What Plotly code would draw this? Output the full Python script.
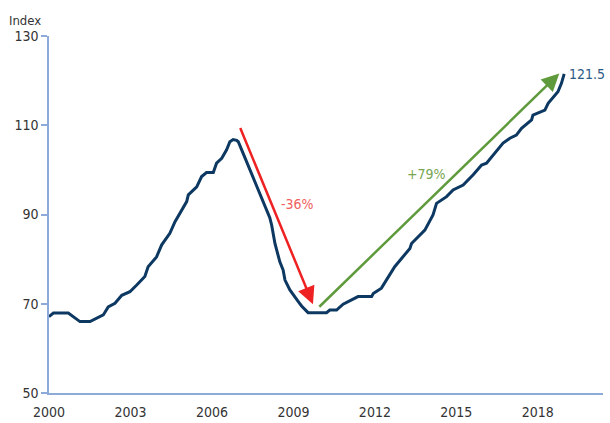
import plotly.graph_objects as go

years = [2000.00, 2000.16, 2000.71, 2000.89, 2001.14, 2001.51, 2001.76, 2002.00, 2002.18, 2002.43,
         2002.68, 2002.98, 2003.23, 2003.53, 2003.65, 2003.96, 2004.15, 2004.45, 2004.64, 2004.82,
         2005.07, 2005.13, 2005.44, 2005.62, 2005.80, 2006.05, 2006.17, 2006.36, 2006.54, 2006.66,
         2006.78, 2006.91, 2006.97, 2007.21, 2007.58, 2007.64, 2008.13, 2008.20, 2008.32, 2008.50,
         2008.62, 2008.69, 2008.87, 2009.18, 2009.30, 2009.54, 2010.22, 2010.34, 2010.59, 2010.83,
         2011.08, 2011.38, 2011.88, 2011.94, 2012.24, 2012.43, 2012.67, 2012.73, 2013.29, 2013.35,
         2013.84, 2014.14, 2014.27, 2014.64, 2014.88, 2015.25, 2015.62, 2015.93, 2016.11, 2016.72,
         2016.97, 2017.21, 2017.40, 2017.77, 2017.82, 2018.26, 2018.38, 2018.74, 2018.87, 2018.93,
         2018.97]
index_values = [67.1, 67.9, 67.9, 67.1, 66.0, 66.0, 66.7, 67.5, 69.3, 70.1,
                71.9, 72.7, 74.2, 76.1, 78.3, 80.5, 83.2, 85.8, 88.4, 90.3,
                92.9, 94.4, 96.2, 98.5, 99.4, 99.4, 101.5, 102.6, 104.5, 106.3,
                106.8, 106.6, 106.3, 102.8, 97.5, 96.6, 89.3, 87.6, 83.5, 79.4,
                77.6, 75.3, 73.1, 70.5, 69.5, 68.0, 68.0, 68.6, 68.6, 69.9,
                70.6, 71.6, 71.6, 72.3, 73.5, 75.3, 77.6, 78.3, 82.4, 83.5,
                86.5, 89.9, 92.5, 94.0, 95.5, 96.6, 98.9, 101.1, 101.5, 106.0,
                107.1, 107.8, 109.3, 111.2, 112.3, 113.4, 114.9, 117.5, 119.4, 120.9,
                121.5]
x_ticks = [2000, 2003, 2006, 2009, 2012, 2015, 2018]
y_ticks = [50, 70, 90, 110, 130]
end_label = "121.5"
fall_label = "-36%"
rise_label = "+79%"

FONT = "DejaVu Sans Condensed, Liberation Sans Narrow, Arial Narrow, sans-serif"
AXIS = "#8eaadb"

fig = go.Figure()
fig.add_trace(go.Scatter(x=years, y=index_values, mode="lines",
                         line=dict(color="#0c3862", width=3), hoverinfo="skip"))

fig.add_annotation(x=2009.72, y=69.9, ax=2007.02, ay=109.7, xref="x", yref="y",
                   axref="x", ayref="y", showarrow=True, arrowhead=2, arrowsize=1.4,
                   arrowwidth=2.5, arrowcolor="#ee2222", text="")
fig.add_annotation(x=2018.79, y=121.6, ax=2009.9, ay=69.0, xref="x", yref="y",
                   axref="x", ayref="y", showarrow=True, arrowhead=2, arrowsize=1.4,
                   arrowwidth=2.5, arrowcolor="#5f9a3c", text="")
fig.add_annotation(x=2009.16, y=92.4, text=fall_label, showarrow=False,
                   font=dict(family=FONT, size=14, color="#f06060"))
fig.add_annotation(x=2013.91, y=99.1, text=rise_label, showarrow=False,
                   font=dict(family=FONT, size=14, color="#78a552"))
fig.add_annotation(x=years[-1], y=index_values[-1], text=end_label, showarrow=False,
                   xanchor="left", xshift=3, yshift=0,
                   font=dict(family=FONT, size=14, color="#2e5b86"))
fig.add_annotation(x=0, y=1, xref="paper", yref="paper", text="Index", showarrow=False,
                   xanchor="left", yanchor="bottom", xshift=-42, yshift=6,
                   font=dict(family=FONT, size=13, color="#333333"))

fig.update_layout(
    width=610, height=423,
    margin=dict(l=49, r=7, t=36, b=30, autoexpand=False),
    plot_bgcolor="white", paper_bgcolor="white",
    showlegend=False,
    font=dict(family=FONT, size=14, color="#333333"),
    xaxis=dict(range=[2000, 2020.4], tickvals=x_ticks, ticktext=[str(t) for t in x_ticks],
               showgrid=False, zeroline=False, showline=True, linecolor=AXIS, linewidth=1.5,
               ticks="outside", ticklen=5, tickcolor="rgba(0,0,0,0)", automargin=False),
    yaxis=dict(range=[50, 130], tickvals=y_ticks, showgrid=False, zeroline=False,
               showline=True, linecolor=AXIS, linewidth=1.5, ticks="outside", ticklen=6,
               tickcolor=AXIS, tickwidth=1.5, automargin=False),
)

fig.write_html("out.html", config={"displayModeBar": False},
               post_script="document.body.style.margin='0';document.body.style.padding='0';")
